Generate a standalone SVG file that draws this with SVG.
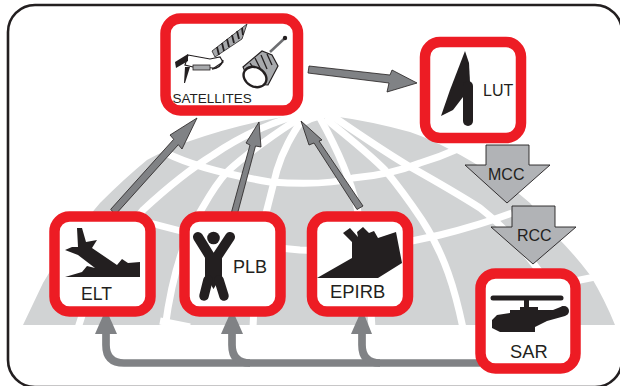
<svg xmlns="http://www.w3.org/2000/svg" width="620" height="386" viewBox="0 0 620 386">
<defs>
<style>
.box{fill:#fff;stroke:#ed1c24;stroke-width:10.5}
.t{font-family:"Liberation Sans",Arial,sans-serif;fill:#231f20}
.ink{fill:#231f20}
.up{fill:#808285;stroke:#231f20;stroke-width:.8;stroke-linejoin:miter}
.down{fill:#b1b3b6;stroke:#231f20;stroke-width:.9}
.lat{fill:none;stroke:#fff;stroke-width:7}
.ret{fill:none;stroke:#808285;stroke-width:7.7}
.reth{fill:#808285}
</style>
</defs>
<rect width="620" height="386" fill="#fff"/>
<rect id="frame" x="8" y="5" width="614" height="382" rx="27" ry="27" fill="#fff" stroke="#231f20" stroke-width="2.6"/>
<g id="globe">
<path d="M23 325L43 283Q68 240 100 203Q125 178 147 160Q165 150 187 142Q235 125 283 117L300 128L312 122L332 116Q370 121 410 132Q430 139 447 148Q475 162 500 180Q515 190 530 203Q545 220 557 237Q575 255 590 275Q605 300 615 325Z" fill="#d1d3d4"/>
<path class="lat" d="M166 153Q200 170 270 182Q325 186 353 178Q390 175 420 163Q440 157 460 148"/>
<path class="lat" d="M150 223Q230 245 300 250Q370 252 440 235Q480 225 512 213"/>
<path class="lat" d="M160 321L190 327"/>
<path class="lat" d="M500 296L595 277"/>
<path class="lat" d="M295 116C265 125 235 140 213 155C195 166 170 185 143 210C115 245 90 285 78 328"/>
<path class="lat" d="M300 118C280 130 245 155 227 172C215 185 207 200 200 212C180 245 170 290 165 328"/>
<path class="lat" d="M303 118C292 135 283 150 277 170C272 190 268 205 263 225C258 260 254 295 253 328"/>
<path class="lat" d="M320 118C335 145 350 177 357 207C365 250 370 290 372 328"/>
<path class="lat" d="M325 118C345 135 365 150 385 170C400 188 412 205 422 220C445 255 455 290 463 328"/>
<path class="lat" d="M328 113C360 135 385 152 407 165C430 178 455 192 480 208C515 235 545 275 570 320"/>
</g>
<g id="connectors">
<polygon class="up" points="110.700,209.300 173.700,139.300 170,135 197,118 182,149 178.300,144.700 115.300,214.700"/>
<polygon class="up" points="231.500,212 250,145 246,143 259,122 261,147 255.500,146 237.500,213.500"/>
<polygon class="up" points="357,209.500 314,143 309,145 301,121 322,140 319,141 363,206"/>
<polygon class="up" points="309,66 390,75 392,70 417,83 387,92 389,83 308,73"/>
<polygon class="down" points="486,145 529,145 529,165 550,165 507,203 465,165 486,165"/>
<polygon class="down" points="512,206 555,206 555,227 576,227 533,264 491,227 512,227"/>
<path class="ret" d="M106 330V345Q106 363 124 363H480"/>
<path class="ret" d="M232 330V345Q232 363 250 363"/>
<path class="ret" d="M362 330V345Q362 363 380 363"/>
<polygon class="reth" points="106,309 117,334 95,334"/>
<polygon class="reth" points="232,309 243,334 221,334"/>
<polygon class="reth" points="362,309 372,334 351,334"/>
</g>
<g id="satellites">
<rect class="box" x="165.500" y="18.500" width="132.500" height="92" rx="15"/>
<polygon points="212,51 247,24 242,39 215,57" fill="#a7a9ac" stroke="#231f20" stroke-width=".8"/>
<path d="M217 47L219 55M222 43L224 51M227 39L229 47M232 35L234 43M237 31L239 39M242 28L243 35" stroke="#231f20" stroke-width="1.800" fill="none"/>
<path d="M188 55L210 59L220 57L223 62L214 68L193 67L185 65Z" fill="#fff" stroke="#231f20" stroke-width="1.200"/>
<rect x="193" y="65" width="17" height="5" fill="#a7a9ac" stroke="#231f20" stroke-width=".8"/>
<polygon class="ink" points="175,62 188,54 188,61 176,68"/>
<polygon class="ink" points="185,67 190,67 185,83 184,83"/>
<path d="M212 69Q221 68 223 60" fill="none" stroke="#231f20" stroke-width="1.500"/>
<path d="M243 67L262 51L272 55L278 66L268 85L250 84Z" fill="#a7a9ac" stroke="#231f20" stroke-width="1.200"/>
<path d="M250 63L256 72M255 58L262 72M261 55L267 69M267 54L272 65" stroke="#231f20" stroke-width="1.300" fill="none"/>
<ellipse cx="255" cy="77" rx="12" ry="9.500" transform="rotate(30 255 77)" fill="#fff" stroke="#231f20" stroke-width="2.400"/>
<path d="M270 52L285 38" stroke="#6d6e71" stroke-width="2.500"/>
<circle cx="285" cy="38" r="2.200" fill="#231f20"/>
<text class="t" x="172.500" y="103" font-size="13.500">SATELLITES</text>
</g>
<g id="lut">
<rect class="box" x="425" y="42" width="96" height="96" rx="15"/>
<polygon class="ink" points="465,51 469,63 470,82 463,97 453,110 441,116 450,90"/>
<path d="M468 86V121" stroke="#231f20" stroke-width="10" stroke-linecap="round" fill="none"/>
<text class="t" x="483" y="96" font-size="16">LUT</text>
</g>
<g id="mcc"><text class="t" x="488" y="180" font-size="16">MCC</text></g>
<g id="rcc"><text class="t" x="517" y="241" font-size="16">RCC</text></g>
<g id="elt">
<rect class="box" x="54.500" y="216.500" width="96" height="95" rx="15"/>
<polygon class="ink" points="77,228 82,228 86,242 97,240 92,248 117,265 122,259 128,263 140,262 140,277 65,277 82,272 87,266 95,268 78,255 65,250 72,247 78,247"/>
<text class="t" x="81" y="300" font-size="17.600">ELT</text>
</g>
<g id="plb">
<rect class="box" x="184.500" y="216.500" width="96" height="95" rx="15"/>
<circle class="ink" cx="213.500" cy="238" r="6.300"/>
<path d="M198 237L213.500 262L230 237" fill="none" stroke="#231f20" stroke-width="10" stroke-linecap="round" stroke-linejoin="round"/>
<path d="M205 256H222V282L219 280L213.500 289L208 280L205 282Z" class="ink"/>
<path d="M208 280L204 296M219 280L224 296" fill="none" stroke="#231f20" stroke-width="9.500" stroke-linecap="round"/>
<text class="t" x="233" y="273" font-size="18">PLB</text>
</g>
<g id="epirb">
<rect class="box" x="312" y="216.500" width="96" height="95" rx="15"/>
<polygon class="ink" points="317,278 352,258 352,242 343,233 350,228 358,237 357,232 363,227 369,233 374,231 378,238 396,232 402,263 378,278"/>
<text class="t" x="330" y="298" font-size="18.400">EPIRB</text>
</g>
<g id="sar">
<rect class="box" x="480.500" y="273.500" width="95" height="95" rx="15"/>
<path d="M493 298H561" stroke="#231f20" stroke-width="5" stroke-linecap="round" fill="none"/>
<rect class="ink" x="524" y="298" width="5" height="10"/>
<polygon class="ink" points="492,320 497,315 510,313 510,310 520,310 520,307 538,307 538,310 553,310 563,306 568,311 565,316 547,321 535,327 535,332 500,332 492,328"/>
<circle class="ink" cx="564" cy="311" r="5"/>
<text class="t" x="510" y="358" font-size="18.300">SAR</text>
</g>
</svg>
